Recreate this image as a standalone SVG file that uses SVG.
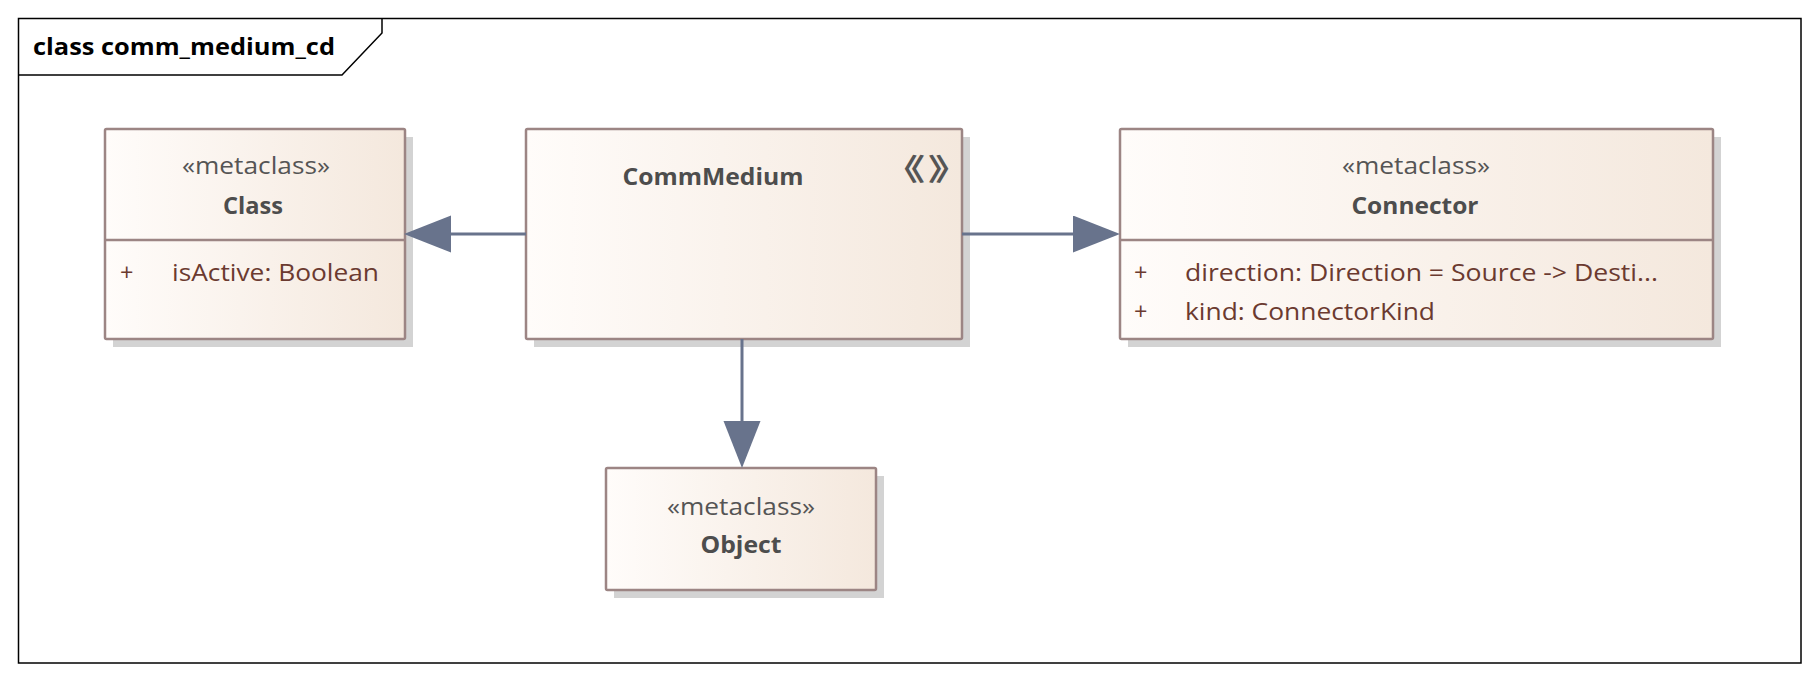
<svg xmlns="http://www.w3.org/2000/svg" width="1818" height="681" viewBox="0 0 1818 681">
<defs>
<linearGradient id="fill" x1="0" y1="0" x2="1" y2="0">
<stop offset="0" stop-color="#FFFCFA"/>
<stop offset="1" stop-color="#F4E8DD"/>
</linearGradient>
<marker id="tri" markerUnits="userSpaceOnUse" markerWidth="48" markerHeight="38" refX="0" refY="18.5" orient="auto">
<path d="M0,0 L47,18.5 L0,37 Z" fill="#68738C"/>
</marker>
<style>
.frame{fill:none;stroke:#000;stroke-width:1.5}
.shadow{fill:#D3D3D3}
.box{fill:url(#fill);stroke:#9C8584;stroke-width:2.5}
.div{stroke:#9C8584;stroke-width:2.5}
.ster{font-family:"Open Sans","Noto Sans",sans-serif;font-size:23.5px;fill:#555555;text-anchor:middle}
.name{font-family:"Open Sans","Noto Sans",sans-serif;font-size:24px;font-weight:bold;fill:#4D4D4D;text-anchor:middle}
.attr{font-family:"Open Sans","Noto Sans",sans-serif;font-size:23.5px;fill:#6B3A30}
.title{font-family:"Open Sans","Noto Sans",sans-serif;font-size:23.5px;font-weight:bold;fill:#000}
.icon{font-family:"Noto Sans CJK SC","Noto Sans",sans-serif;font-size:30px;font-weight:bold;fill:#555555}
.edge{stroke:#68738C;stroke-width:3;fill:none;marker-end:url(#tri)}
</style>
</defs>
<rect x="0" y="0" width="1818" height="681" fill="#FFFFFF"/>
<g id="frame">
<rect class="frame" x="18.5" y="18.5" width="1782.5" height="644.5"/>
<path class="frame" d="M18.5,75 H342 L382,33 V18.5"/>
<text class="title" x="33" y="55" textLength="302" lengthAdjust="spacingAndGlyphs">class comm_medium_cd</text>
</g>
<g id="Class">
<rect class="shadow" x="113" y="137" width="300" height="210"/>
<rect class="box" x="105" y="129" width="300" height="210" rx="1.5"/>
<line class="div" x1="105" y1="240" x2="405" y2="240"/>
<text class="ster" x="256" y="174" textLength="148" lengthAdjust="spacingAndGlyphs">«metaclass»</text>
<text class="name" x="253" y="214" textLength="60" lengthAdjust="spacingAndGlyphs">Class</text>
<text class="attr" x="120" y="281">+</text>
<text class="attr" x="172" y="281" textLength="207" lengthAdjust="spacingAndGlyphs">isActive: Boolean</text>
</g>
<g id="CommMedium">
<rect class="shadow" x="534" y="137" width="436" height="210"/>
<rect class="box" x="526" y="129" width="436" height="210" rx="1.5"/>
<text class="name" x="713" y="185" textLength="181" lengthAdjust="spacingAndGlyphs">CommMedium</text>
<text class="icon" x="883" y="180" textLength="42" lengthAdjust="spacingAndGlyphs">《</text>
<text class="icon" x="928" y="180" textLength="42" lengthAdjust="spacingAndGlyphs">》</text>
</g>
<g id="Connector">
<rect class="shadow" x="1128" y="137" width="593" height="210"/>
<rect class="box" x="1120" y="129" width="593" height="210" rx="1.5"/>
<line class="div" x1="1120" y1="240" x2="1713" y2="240"/>
<text class="ster" x="1416" y="174" textLength="148" lengthAdjust="spacingAndGlyphs">«metaclass»</text>
<text class="name" x="1415" y="214" textLength="127" lengthAdjust="spacingAndGlyphs">Connector</text>
<text class="attr" x="1134" y="281">+</text>
<text class="attr" x="1185" y="281" textLength="473" lengthAdjust="spacingAndGlyphs">direction: Direction = Source -&gt; Desti...</text>
<text class="attr" x="1134" y="320">+</text>
<text class="attr" x="1185" y="320" textLength="250" lengthAdjust="spacingAndGlyphs">kind: ConnectorKind</text>
</g>
<g id="Object">
<rect class="shadow" x="614" y="476" width="270" height="122"/>
<rect class="box" x="606" y="468" width="270" height="122" rx="1.5"/>
<text class="ster" x="741" y="515" textLength="148" lengthAdjust="spacingAndGlyphs">«metaclass»</text>
<text class="name" x="741" y="553" textLength="81" lengthAdjust="spacingAndGlyphs">Object</text>
</g>
<g id="connectors">
<line class="edge" x1="526" y1="234" x2="451" y2="234"/>
<line class="edge" x1="962" y1="234" x2="1073" y2="234"/>
<line class="edge" x1="742" y1="339" x2="742" y2="421"/>
</g>
</svg>
